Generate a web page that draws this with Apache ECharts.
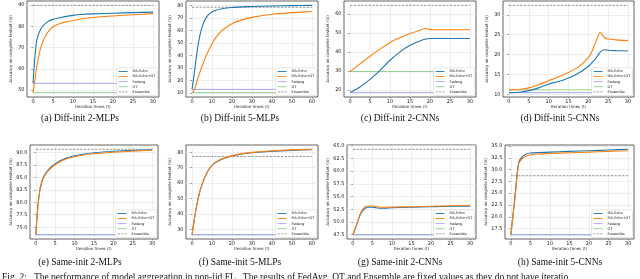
<!DOCTYPE html>
<html><head><meta charset="utf-8">
<script src="https://cdn.jsdelivr.net/npm/echarts@6/dist/echarts.min.js"></script>
<style>html,body{margin:0;padding:0;background:#fff}#c{width:640px;height:279px}</style>
</head><body><div id="c"></div>
<script>
// ---------- data ----------
const seriesNames = ['MA-Echo', 'MA-Echo+OT', 'Fedavg', 'OT', 'Ensemble'];
const captions = ['(a) Diff-init 2-MLPs', '(b) Diff-init 5-MLPs', '(c) Diff-init 2-CNNs', '(d) Diff-init 5-CNNs',
                  '(e) Same-init 2-MLPs', '(f) Same-init 5-MLPs', '(g) Same-init 2-CNNs', '(h) Same-init 5-CNNs'];
const figCaption = 'Fig. 2:   The performance of model aggregation in non-iid FL.  The results of FedAvg, OT and Ensemble are fixed values as they do not have iteratio';
const xAxisName = 'Iteration times (t)';
const yAxisName = 'Accuracy on complete testset (%)';

const xTicks30 = [0, 5, 10, 15, 20, 25, 30];
const xTicks60 = [0, 10, 20, 30, 40, 50, 60];

// (a) Diff-init 2-MLPs
const xA = [0, 0.5, 1, 2, 3, 4, 5, 6, 7, 8, 10, 12, 15, 20, 25, 30];
const echoA = [53.2, 66.0, 74.0, 79.0, 81.2, 82.5, 83.3, 83.8, 84.2, 84.6, 85.2, 85.6, 85.9, 86.2, 86.5, 86.7];
const echoOtA = [48.8, 55.0, 61.8, 70.5, 75.0, 78.0, 79.8, 80.8, 81.5, 82.0, 82.8, 83.5, 84.2, 84.9, 85.5, 86.0];
const yTicksA = [50, 60, 70, 80, 90];

// (b) Diff-init 5-MLPs
const xB = [0, 1, 2, 3, 4, 5, 6, 8, 10, 12, 15, 20, 25, 30, 40, 50, 60];
const echoB = [12.8, 24.0, 37.0, 48.0, 56.5, 62.5, 67.0, 72.3, 74.8, 76.2, 77.4, 78.4, 78.9, 79.2, 79.6, 79.9, 80.1];
const echoOtB = [10.4, 12.0, 17.0, 22.0, 27.0, 31.5, 35.5, 43.0, 49.5, 54.5, 60.0, 65.5, 68.5, 70.5, 73.0, 74.3, 75.2];
const yTicksB = [10, 20, 30, 40, 50, 60, 70, 80];

// (c) Diff-init 2-CNNs
const xC = [0, 2.5, 5, 7.5, 10, 12.5, 15, 17.5, 19, 20, 22, 25, 30];
const echoC = [18.5, 21.5, 25.5, 30.3, 35.6, 40.0, 43.5, 45.8, 46.8, 47.1, 47.1, 47.1, 47.1];
const echoOtC = [29.6, 33.7, 37.7, 41.5, 45.0, 47.5, 49.7, 51.5, 52.4, 51.8, 51.7, 51.7, 51.7];
const yTicksC = [20, 30, 40, 50, 60];

// (d) Diff-init 5-CNNs
const xD = [0, 2.5, 5, 7.5, 10, 12.5, 15, 17.5, 20, 21, 22, 23, 24, 25, 27, 30];
const echoD = [10.4, 10.5, 10.9, 11.6, 12.6, 13.2, 14.1, 15.3, 17.0, 18.0, 19.2, 20.6, 21.2, 21.1, 21.0, 20.9];
const echoOtD = [11.1, 11.2, 11.6, 12.4, 13.4, 14.4, 15.5, 16.9, 19.2, 21.0, 23.5, 25.6, 24.3, 23.9, 23.7, 23.5];
const yTicksD = [10, 15, 20, 25, 30];

// (e) Same-init 2-MLPs
const xE = [0, 0.5, 1, 1.5, 2, 3, 4, 5, 6, 8, 10, 12, 15, 20, 25, 30];
const echoE = [73.5, 79.0, 82.3, 84.0, 85.1, 86.3, 87.1, 87.7, 88.2, 88.9, 89.3, 89.6, 89.9, 90.2, 90.4, 90.5];
const echoOtE = [73.5, 78.8, 82.1, 83.8, 84.9, 86.1, 86.9, 87.5, 88.0, 88.7, 89.1, 89.4, 89.7, 90.0, 90.2, 90.4];
const yTicksE = [75.0, 77.5, 80.0, 82.5, 85.0, 87.5, 90.0];

// (f) Same-init 5-MLPs
const xF = [0, 1, 2, 3, 4, 5, 6, 8, 10, 12, 15, 20, 25, 30, 40, 50, 60];
const echoF = [26.5, 35.0, 43.0, 49.5, 55.0, 59.0, 62.5, 68.0, 71.5, 73.5, 75.5, 77.5, 78.8, 79.6, 80.6, 81.2, 81.6];
const echoOtF = [26.5, 35.0, 43.0, 49.5, 55.0, 59.0, 62.5, 68.0, 71.5, 73.6, 75.7, 77.8, 79.1, 79.9, 80.9, 81.5, 81.9];
const yTicksF = [30, 40, 50, 60, 70, 80];

// (g) Same-init 2-CNNs
const xG = [0, 1, 2, 3, 4, 5, 6, 7, 8, 10, 15, 20, 25, 30];
const echoG = [47.5, 49.5, 51.6, 52.6, 52.9, 52.9, 52.8, 52.7, 52.7, 52.8, 52.9, 53.0, 53.1, 53.1];
const echoOtG = [47.5, 49.6, 51.8, 52.9, 53.15, 53.15, 53.0, 52.9, 52.9, 52.95, 53.0, 53.1, 53.2, 53.3];
const yTicksG = [47.5, 50.0, 52.5, 55.0, 57.5, 60.0, 62.5, 65.0];

// (h) Same-init 5-CNNs
const xH = [0, 1, 2, 3, 4, 5, 7, 10, 15, 20, 25, 30];
const echoH = [16.2, 24.0, 31.5, 32.8, 33.3, 33.5, 33.6, 33.7, 33.85, 34.0, 34.15, 34.3];
const echoOtH = [16.2, 23.5, 31.2, 32.4, 32.9, 33.1, 33.3, 33.4, 33.55, 33.7, 33.85, 34.0];
const yTicksH = [17.5, 20.0, 22.5, 25.0, 27.5, 30.0, 32.5, 35.0];

// fixed (non-iterative) baselines per panel a..h
const fedavgVals   = [53.2, 13.0, 18.5, 10.4, 73.5, 26.5, 47.5, 16.2];
const otVals       = [48.8, 10.4, 29.6, 11.1, 73.5, 26.5, 47.5, 16.2];
const ensembleVals = [89.9, 78.6, 64.6, 32.4, 90.6, 77.2, 64.3, 28.7];

// ---------- layout (pixels) ----------
const W = 640, H = 279;
const layout = [
  {l: 27,  t: 1,   w: 132, h: 96}, {l: 186, t: 1,   w: 132, h: 96},
  {l: 344, t: 1,   w: 132, h: 96}, {l: 503, t: 1,   w: 131, h: 96},
  {l: 30,  t: 145, w: 128, h: 94}, {l: 186, t: 145, w: 132, h: 94},
  {l: 347, t: 145, w: 129, h: 94}, {l: 505, t: 145, w: 129, h: 94}
];
const captionCx = [80, 240, 400, 560, 80, 240, 400, 560];
const captionY = [118, 118, 118, 118, 262, 262, 262, 262];

const panels = [
  {x: xA, e: echoA, o: echoOtA, yt: yTicksA, xt: xTicks30, dec: 0},
  {x: xB, e: echoB, o: echoOtB, yt: yTicksB, xt: xTicks60, dec: 0},
  {x: xC, e: echoC, o: echoOtC, yt: yTicksC, xt: xTicks30, dec: 0},
  {x: xD, e: echoD, o: echoOtD, yt: yTicksD, xt: xTicks30, dec: 0},
  {x: xE, e: echoE, o: echoOtE, yt: yTicksE, xt: xTicks30, dec: 1},
  {x: xF, e: echoF, o: echoOtF, yt: yTicksF, xt: xTicks60, dec: 0},
  {x: xG, e: echoG, o: echoOtG, yt: yTicksG, xt: xTicks30, dec: 1},
  {x: xH, e: echoH, o: echoOtH, yt: yTicksH, xt: xTicks30, dec: 1}
];

const colors = {echo: '#1f77b4', echoOt: '#ff7f0e', fedavg: '#a3a3f5', ot: '#8fcf8f', ens: '#8c8c8c'};
const tickFont = {fontSize: 5, color: '#222', fontFamily: 'DejaVu Sans'};
const solidIcon = 'path://M0,0h10v1h-10z';
const dashIcon = 'path://M0,0h2.6v1h-2.6z M3.7,0h2.6v1h-2.6z M7.4,0h2.6v1h-2.6z';

const grid = [], xAxis = [], yAxis = [], series = [], legend = [], graphic = [];

panels.forEach((p, i) => {
  const L = layout[i];
  grid.push({left: L.l, top: L.t, width: L.w, height: L.h, show: true,
             borderColor: '#3a3a3a', borderWidth: 0.8, backgroundColor: '#fff'});
  const x0 = p.x[0], x1 = p.x[p.x.length - 1];
  const xr = x1 - x0;
  const allY = p.e.concat(p.o, [fedavgVals[i], otVals[i], ensembleVals[i]]);
  const y0 = Math.min(...allY), y1 = Math.max(...allY), yr = y1 - y0;
  xAxis.push({type: 'value', gridIndex: i, min: x0 - 0.05 * xr, max: x1 + 0.05 * xr,
    name: xAxisName, nameLocation: 'middle', nameGap: 8,
    nameTextStyle: {fontSize: 4, color: '#222', fontFamily: 'DejaVu Sans'},
    axisLine: {show: false},
    axisTick: {show: true, length: 1.5, inside: false, customValues: p.xt, lineStyle: {color: '#333', width: 0.5}},
    axisLabel: {customValues: p.xt, margin: 2.5, ...tickFont, formatter: v => String(v)},
    splitLine: {show: true, lineStyle: {color: '#e3e3e3', width: 0.6}}
  });
  yAxis.push({type: 'value', gridIndex: i, min: y0 - 0.05 * yr, max: y1 + 0.05 * yr,
    name: yAxisName, nameLocation: 'middle', nameGap: p.dec ? 17 : 14, nameRotate: 90,
    nameTextStyle: {fontSize: 4, color: '#222', fontFamily: 'DejaVu Sans'},
    axisLine: {show: false},
    axisTick: {show: true, length: 1.5, customValues: p.yt, lineStyle: {color: '#333', width: 0.5}},
    axisLabel: {customValues: p.yt, margin: 2.5, ...tickFont, formatter: v => v.toFixed(p.dec)},
    splitLine: {show: true, lineStyle: {color: '#e3e3e3', width: 0.6}}
  });
  const base = {type: 'line', xAxisIndex: i, yAxisIndex: i, showSymbol: false, symbol: 'none', animation: false};
  series.push({...base, name: 'Ensemble', data: [[x0, ensembleVals[i]], [x1, ensembleVals[i]]],
    lineStyle: {color: colors.ens, width: 0.9, type: [2.5, 1.2]}, itemStyle: {color: colors.ens}, z: 2});
  series.push({...base, name: 'OT', data: [[x0, otVals[i]], [x1, otVals[i]]],
    lineStyle: {color: colors.ot, width: 1}, itemStyle: {color: colors.ot}, z: 2});
  series.push({...base, name: 'Fedavg', data: [[x0, fedavgVals[i]], [x1, fedavgVals[i]]],
    lineStyle: {color: colors.fedavg, width: 1}, itemStyle: {color: colors.fedavg}, z: 2});
  series.push({...base, name: 'MA-Echo', data: p.x.map((xv, k) => [xv, p.e[k]]), smooth: 0.25,
    lineStyle: {color: colors.echo, width: 1.1}, itemStyle: {color: colors.echo}, z: 3});
  series.push({...base, name: 'MA-Echo+OT', data: p.x.map((xv, k) => [xv, p.o[k]]), smooth: 0.25,
    lineStyle: {color: colors.echoOt, width: 1.1}, itemStyle: {color: colors.echoOt}, z: 4});
  legend.push({show: true, orient: 'vertical',
    data: seriesNames.map(n => ({name: n, icon: n === 'Ensemble' ? dashIcon : solidIcon})),
    right: W - (L.l + L.w) + 1.5, bottom: H - (L.t + L.h) + 1.5,
    itemWidth: 9, itemHeight: 1.1, itemGap: 0.8,
    padding: [1.5, 2, 1.5, 2], backgroundColor: '#fff',
    borderColor: '#d0d0d0', borderWidth: 0.5, borderRadius: 1.5, z: 20,
    textStyle: {fontSize: 3.5, lineHeight: 4.3, color: '#222', fontFamily: 'DejaVu Sans'}
  });
  graphic.push({type: 'text', x: captionCx[i], y: captionY[i],
    style: {text: captions[i], fontSize: 9.5, fontFamily: 'Liberation Serif', fill: '#111',
            textAlign: 'center', textVerticalAlign: 'middle'}});
});
graphic.push({type: 'text', x: 2, y: 272,
  style: {text: figCaption, fontSize: 9.5, fontFamily: 'Liberation Serif', fill: '#111',
          textAlign: 'left', textVerticalAlign: 'top'}});

const chart = echarts.init(document.getElementById('c'), null, {renderer: 'canvas'});
chart.setOption({animation: false, backgroundColor: '#fff', grid, xAxis, yAxis, series, legend, graphic});
</script>
</body></html>
